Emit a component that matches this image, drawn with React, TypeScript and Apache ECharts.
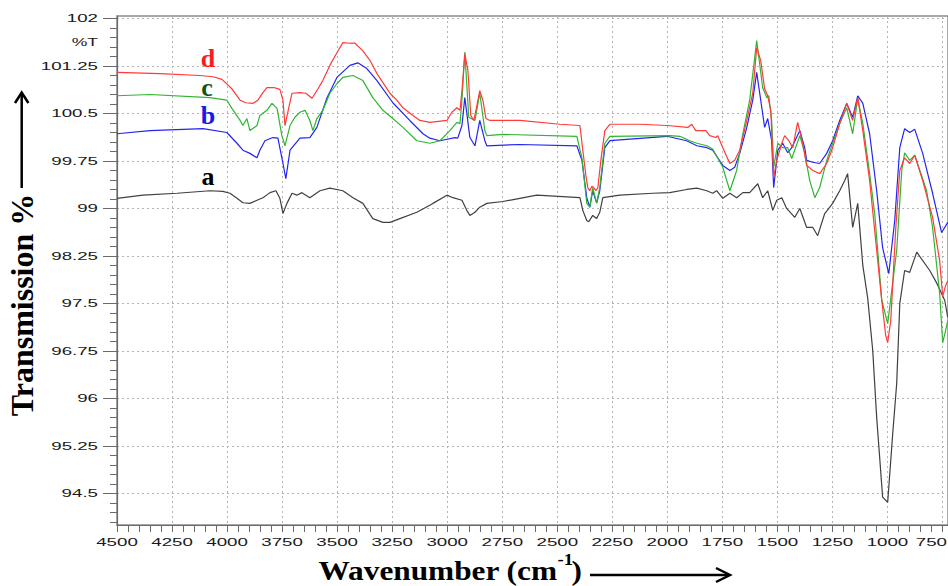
import React, { useEffect, useRef } from "react";
import * as echarts from "echarts";

// ---- axes ----
const X_LABELS = [4500, 4250, 4000, 3750, 3500, 3250, 3000, 2750, 2500, 2250, 2000, 1750, 1500, 1250, 1000, 750];
const Y_LABELS = [102, 101.25, 100.5, 99.75, 99, 98.25, 97.5, 96.75, 96, 95.25, 94.5];
const X_RANGE = [725, 4500];
const Y_RANGE = [94, 102.04];
const X_MINOR_STEP = 50;
const Y_MINOR_STEP = 0.15;
const Y_UNIT = "%T";
const Y_TITLE = "Transmission %";
const X_TITLE_MAIN = "Wavenumber (cm";
const X_TITLE_SUP = "-1";
const X_TITLE_END = ")";

// ---- series: [wavenumber cm-1, transmission %] ----
const SAMPLE_A = [
  [4500, 99.16], [4382, 99.21], [4227, 99.24], [4078, 99.28], [4019, 99.27], [3987, 99.24], [3955, 99.16],
  [3928, 99.09], [3896, 99.08], [3864, 99.13], [3837, 99.17], [3805, 99.25], [3778, 99.28], [3760, 99.16],
  [3746, 98.92], [3728, 99.08], [3705, 99.24], [3683, 99.21], [3660, 99.25], [3624, 99.17], [3578, 99.28],
  [3533, 99.32], [3474, 99.28], [3428, 99.17], [3383, 99.08], [3338, 98.84], [3292, 98.78], [3260, 98.78],
  [3215, 98.84], [3138, 98.94], [3079, 99.05], [3065, 99.08], [3001, 99.21], [2974, 99.17], [2933, 99.13],
  [2911, 98.97], [2897, 98.89], [2874, 98.94], [2852, 99.02], [2820, 99.08], [2747, 99.11], [2670, 99.16],
  [2593, 99.21], [2397, 99.17], [2384, 98.97], [2366, 98.81], [2357, 98.79], [2339, 98.89], [2321, 98.84],
  [2307, 98.94], [2293, 99.17], [2216, 99.21], [2066, 99.24], [1989, 99.25], [1912, 99.3], [1866, 99.32],
  [1821, 99.28], [1794, 99.24], [1776, 99.28], [1748, 99.16], [1716, 99.24], [1685, 99.17], [1657, 99.25],
  [1626, 99.25], [1589, 99.39], [1567, 99.17], [1544, 99.28], [1521, 98.97], [1503, 99.13], [1480, 99.17],
  [1458, 99.0], [1421, 98.86], [1398, 99.0], [1367, 98.7], [1339, 98.7], [1317, 98.57], [1285, 98.92],
  [1249, 99.08], [1217, 99.28], [1194, 99.44], [1181, 99.55], [1158, 98.7], [1135, 99.08], [1112, 98.1],
  [1090, 97.59], [1067, 96.76], [1049, 95.7], [1022, 94.44], [999, 94.36], [976, 95.45], [958, 96.24],
  [944, 97.5], [922, 98.02], [899, 97.99], [867, 98.31], [808, 98.02], [776, 97.82], [740, 97.55], [726, 97.28],
];

const SAMPLE_B = [
  [4500, 100.18], [4350, 100.23], [4109, 100.26], [4001, 100.2], [3955, 100.03], [3928, 99.92], [3896, 99.87],
  [3864, 99.8], [3851, 99.92], [3828, 100.07], [3792, 100.12], [3769, 100.11], [3746, 99.71], [3733, 99.47],
  [3714, 99.92], [3669, 100.11], [3624, 100.12], [3592, 100.28], [3546, 100.75], [3501, 101.07], [3442, 101.26],
  [3406, 101.3], [3365, 101.21], [3319, 101.02], [3247, 100.67], [3170, 100.39], [3110, 100.18], [3079, 100.11],
  [3033, 100.07], [2965, 100.12], [2952, 100.11], [2933, 100.31], [2920, 100.75], [2897, 100.12], [2874, 99.99],
  [2852, 100.39], [2829, 100.07], [2820, 99.99], [2670, 100.01], [2411, 99.99], [2388, 99.76], [2366, 99.17],
  [2352, 99.02], [2339, 99.28], [2321, 99.09], [2307, 99.28], [2284, 99.96], [2261, 100.07], [2002, 100.14],
  [1912, 100.07], [1866, 99.99], [1821, 99.96], [1794, 99.92], [1748, 99.68], [1716, 99.6], [1694, 99.65],
  [1671, 99.87], [1639, 100.28], [1612, 100.71], [1594, 101.15], [1567, 100.5], [1558, 100.28], [1544, 100.42],
  [1526, 100.07], [1517, 99.33], [1498, 99.92], [1476, 100.03], [1453, 99.88], [1435, 99.96], [1398, 100.23],
  [1376, 99.96], [1367, 99.76], [1339, 99.73], [1308, 99.71], [1276, 99.87], [1249, 100.07], [1217, 100.39],
  [1185, 100.66], [1158, 100.44], [1135, 100.78], [1112, 100.66], [1081, 100.18], [1049, 99.28], [1022, 98.38],
  [994, 97.97], [967, 98.81], [944, 99.96], [922, 100.26], [899, 100.2], [876, 100.25], [840, 99.87],
  [795, 99.24], [754, 98.62], [726, 98.78],
];

const SAMPLE_C = [
  [4500, 100.78], [4350, 100.8], [4078, 100.75], [4001, 100.71], [3978, 100.58], [3941, 100.39], [3928, 100.31],
  [3910, 100.42], [3896, 100.23], [3864, 100.31], [3851, 100.47], [3819, 100.55], [3796, 100.66], [3773, 100.58],
  [3751, 100.15], [3737, 99.99], [3714, 100.31], [3692, 100.44], [3669, 100.52], [3646, 100.55], [3624, 100.39],
  [3610, 100.23], [3592, 100.42], [3565, 100.55], [3533, 100.82], [3501, 100.97], [3474, 101.07], [3428, 101.1],
  [3383, 101.02], [3338, 100.75], [3292, 100.55], [3247, 100.42], [3201, 100.28], [3138, 100.07], [3079, 100.03],
  [3033, 100.07], [2988, 100.23], [2956, 100.36], [2942, 100.34], [2933, 100.71], [2920, 101.47], [2902, 100.44],
  [2874, 100.39], [2852, 100.82], [2829, 100.23], [2820, 100.15], [2747, 100.17], [2411, 100.14], [2388, 99.8],
  [2366, 99.08], [2352, 99.02], [2339, 99.33], [2321, 99.08], [2307, 99.33], [2284, 100.03], [2261, 100.14],
  [1989, 100.15], [1943, 100.14], [1898, 100.07], [1866, 100.03], [1821, 99.99], [1794, 99.94], [1748, 99.65],
  [1716, 99.28], [1685, 99.6], [1657, 100.18], [1626, 100.71], [1594, 101.65], [1567, 100.91], [1548, 100.75],
  [1539, 100.78], [1526, 100.39], [1517, 99.65], [1498, 100.03], [1476, 99.96], [1453, 99.96], [1435, 99.79],
  [1398, 100.15], [1376, 99.87], [1353, 99.44], [1330, 99.17], [1308, 99.33], [1276, 99.76], [1249, 100.03],
  [1217, 100.34], [1185, 100.59], [1158, 100.18], [1135, 100.74], [1112, 100.34], [1081, 99.55], [1058, 98.92],
  [1026, 97.55], [999, 97.18], [958, 98.34], [935, 99.6], [922, 99.88], [899, 99.76], [876, 99.84], [822, 99.28],
  [795, 98.7], [763, 97.66], [749, 96.88], [736, 97.07], [726, 97.23],
];

const SAMPLE_D = [
  [4500, 101.15], [4305, 101.13], [4123, 101.1], [4064, 101.08], [4023, 101.04], [3978, 100.89], [3941, 100.71],
  [3914, 100.67], [3882, 100.66], [3860, 100.71], [3837, 100.83], [3819, 100.91], [3787, 100.91], [3760, 100.88],
  [3746, 100.71], [3737, 100.31], [3724, 100.52], [3705, 100.82], [3669, 100.83], [3642, 100.82], [3614, 100.74],
  [3587, 100.89], [3565, 101.02], [3533, 101.26], [3501, 101.46], [3474, 101.62], [3442, 101.61], [3419, 101.61],
  [3383, 101.49], [3351, 101.34], [3319, 101.13], [3283, 100.94], [3260, 100.82], [3229, 100.71], [3201, 100.59],
  [3160, 100.48], [3124, 100.39], [3079, 100.36], [3001, 100.39], [2979, 100.52], [2956, 100.59], [2942, 100.55],
  [2933, 100.86], [2920, 101.44], [2906, 101.18], [2893, 100.47], [2879, 100.39], [2865, 100.63], [2852, 100.86],
  [2838, 100.71], [2824, 100.42], [2806, 100.39], [2670, 100.39], [2488, 100.33], [2397, 100.31], [2384, 99.92],
  [2370, 99.52], [2361, 99.32], [2352, 99.28], [2343, 99.35], [2334, 99.33], [2325, 99.28], [2316, 99.32],
  [2302, 99.76], [2284, 100.23], [2261, 100.33], [2125, 100.33], [2002, 100.31], [1907, 100.28], [1889, 100.33],
  [1871, 100.23], [1825, 100.23], [1807, 100.15], [1780, 100.12], [1771, 100.15], [1748, 99.96], [1716, 99.71],
  [1694, 99.76], [1671, 99.92], [1639, 100.39], [1612, 100.82], [1594, 101.54], [1576, 101.34], [1558, 100.89],
  [1544, 100.78], [1530, 100.55], [1517, 99.49], [1503, 99.76], [1480, 100.03], [1467, 100.15], [1448, 100.07],
  [1430, 99.96], [1408, 100.36], [1385, 100.03], [1367, 99.68], [1339, 99.6], [1308, 99.55], [1276, 99.71],
  [1249, 99.96], [1217, 100.34], [1185, 100.66], [1158, 100.39], [1135, 100.75], [1112, 100.23], [1081, 99.44],
  [1049, 98.34], [1026, 97.55], [1008, 96.99], [999, 96.88], [985, 97.23], [963, 98.65], [944, 99.6],
  [922, 99.8], [899, 99.71], [876, 99.84], [840, 99.44], [795, 98.86], [763, 98.18], [749, 97.61], [736, 97.78],
  [726, 97.86],
];

const SERIES = [
  { name: "a", data: SAMPLE_A, color: "#404040", textColor: "#000000", pos: [208, 176] },
  { name: "b", data: SAMPLE_B, color: "#2424f2", textColor: "#1a1ae6", pos: [208, 115] },
  { name: "c", data: SAMPLE_C, color: "#2fb52f", textColor: "#145214", pos: [207, 87] },
  { name: "d", data: SAMPLE_D, color: "#ff3a3a", textColor: "#ff1a1a", pos: [208, 58] },
];

const TICK_FONT = '11px "Liberation Sans", Arial, sans-serif';
const TITLE_FONT_FAMILY = '"Liberation Serif", "Times New Roman", serif';

function minorValues(from: number, to: number, step: number) {
  const out: number[] = [];
  const n = Math.round((to - from) / step);
  for (let k = 0; k <= n; k++) out.push(+(from + k * step).toFixed(4));
  return out;
}

export default function App() {
  const ref = useRef<HTMLDivElement>(null);

  useEffect(() => {
    if (!ref.current) return;
    const chart = echarts.init(ref.current, null, { renderer: "svg" });

    const xMinor = minorValues(X_LABELS[X_LABELS.length - 1], X_LABELS[0], X_MINOR_STEP);
    const yLow = Y_LABELS[Y_LABELS.length - 1];
    const yMinor = minorValues(
      +(yLow - Y_MINOR_STEP * 3).toFixed(4),
      +(Y_LABELS[0] - Y_MINOR_STEP).toFixed(4),
      Y_MINOR_STEP
    );

    const axisColor = "#6a6a6a";
    const gridLine = { show: true, lineStyle: { color: "#b4b4b4", type: [2, 3] as any, width: 1 } };

    const option: any = {
      animation: false,
      backgroundColor: "#ffffff",
      grid: {
        left: 117,
        right: 0,
        top: 16,
        bottom: 61,
        show: true,
        borderColor: "#8a8a8a",
        borderWidth: 1.5,
        backgroundColor: "transparent",
      },
      xAxis: [
        {
          type: "value",
          inverse: true,
          min: X_RANGE[0],
          max: X_RANGE[1],
          axisLine: { show: true, onZero: false, lineStyle: { color: axisColor, width: 1.2 } },
          axisTick: { show: true, customValues: X_LABELS, length: 7, lineStyle: { color: axisColor } },
          axisLabel: { show: false },
          splitLine: gridLine,
        },
        {
          type: "value",
          inverse: true,
          min: X_RANGE[0],
          max: X_RANGE[1],
          position: "bottom",
          axisLine: { show: false, onZero: false },
          axisTick: { show: true, customValues: xMinor, length: 7, lineStyle: { color: axisColor } },
          axisLabel: { show: false },
          splitLine: { show: false },
        },
      ],
      yAxis: [
        {
          type: "value",
          min: Y_RANGE[0],
          max: Y_RANGE[1],
          axisLine: { show: true, onZero: false, lineStyle: { color: axisColor, width: 1.2 } },
          axisTick: { show: true, customValues: Y_LABELS, length: 14, lineStyle: { color: axisColor } },
          axisLabel: { show: false },
          splitLine: gridLine,
        },
        {
          type: "value",
          min: Y_RANGE[0],
          max: Y_RANGE[1],
          position: "left",
          axisLine: { show: false, onZero: false },
          axisTick: { show: true, customValues: yMinor, length: 7, lineStyle: { color: axisColor } },
          axisLabel: { show: false },
          splitLine: { show: false },
        },
      ],
      series: SERIES.map((s) => ({
        name: s.name,
        type: "line",
        xAxisIndex: 0,
        yAxisIndex: 0,
        data: s.data,
        showSymbol: false,
        symbol: "none",
        smooth: false,
        lineStyle: { color: s.color, width: 1.2 },
        itemStyle: { color: s.color },
        z: 3,
      })),
    };

    chart.setOption(option);

    const graphics: any[] = [];
    const yBase = chart.convertToPixel({ yAxisIndex: 0 }, Y_RANGE[0]) as number;
    const xLeft = chart.convertToPixel({ xAxisIndex: 0 }, X_RANGE[1]) as number;
    const chartWidth = chart.getWidth();

    X_LABELS.forEach((v) => {
      const px = chart.convertToPixel({ xAxisIndex: 0 }, v) as number;
      // keep the last label fully inside the picture
      const nearEdge = px + 16 > chartWidth;
      graphics.push({
        type: "text",
        x: nearEdge ? chartWidth - 1 : px,
        y: yBase + 17,
        scaleX: 1.7,
        silent: true,
        style: {
          text: String(v),
          font: TICK_FONT,
          fill: "#1a1a1a",
          align: nearEdge ? "right" : "center",
          textAlign: nearEdge ? "right" : "center",
          verticalAlign: "middle",
          textVerticalAlign: "middle",
        },
      });
    });
    Y_LABELS.forEach((v) => {
      const py = chart.convertToPixel({ yAxisIndex: 0 }, v) as number;
      graphics.push({
        type: "text",
        x: xLeft - 19,
        y: py,
        scaleX: 1.7,
        silent: true,
        style: {
          text: String(v),
          font: TICK_FONT,
          fill: "#1a1a1a",
          align: "right",
          textAlign: "right",
          verticalAlign: "middle",
          textVerticalAlign: "middle",
        },
      });
    });
    const unitY = chart.convertToPixel({ yAxisIndex: 0 }, (Y_LABELS[0] + Y_LABELS[1]) / 2) as number;
    graphics.push({
      type: "text",
      x: xLeft - 19,
      y: unitY,
      scaleX: 1.6,
      silent: true,
      style: {
        text: Y_UNIT,
        font: TICK_FONT,
        fill: "#1a1a1a",
        align: "right",
        textAlign: "right",
        verticalAlign: "middle",
        textVerticalAlign: "middle",
      },
    });

    // y title + arrow
    graphics.push({
      type: "text",
      x: 22,
      y: 305,
      rotation: Math.PI / 2,
      silent: true,
      style: {
        text: Y_TITLE,
        font: `bold 32px ${TITLE_FONT_FAMILY}`,
        fill: "#000",
        align: "center",
        textAlign: "center",
        verticalAlign: "middle",
        textVerticalAlign: "middle",
      },
    });
    graphics.push({
      type: "line",
      silent: true,
      shape: { x1: 21.7, y1: 188, x2: 21.7, y2: 94 },
      style: { stroke: "#000", lineWidth: 2.5 },
    });
    graphics.push({
      type: "polyline",
      silent: true,
      shape: { points: [[15, 103], [21.7, 92.5], [28.4, 103]] },
      style: { stroke: "#000", lineWidth: 2.5, fill: null },
    });

    // x title + arrow
    graphics.push({
      type: "text",
      x: 557,
      y: 571,
      scaleX: 1.16,
      silent: true,
      style: {
        text: X_TITLE_MAIN,
        font: `bold 27px ${TITLE_FONT_FAMILY}`,
        fill: "#000",
        align: "right",
        textAlign: "right",
        verticalAlign: "middle",
        textVerticalAlign: "middle",
      },
    });
    graphics.push({
      type: "text",
      x: 557.5,
      y: 559,
      scaleX: 1.1,
      silent: true,
      style: {
        text: X_TITLE_SUP,
        font: `bold 17px ${TITLE_FONT_FAMILY}`,
        fill: "#000",
        align: "left",
        textAlign: "left",
        verticalAlign: "middle",
        textVerticalAlign: "middle",
      },
    });
    graphics.push({
      type: "text",
      x: 571.5,
      y: 571,
      scaleX: 1.16,
      silent: true,
      style: {
        text: X_TITLE_END,
        font: `bold 27px ${TITLE_FONT_FAMILY}`,
        fill: "#000",
        align: "left",
        textAlign: "left",
        verticalAlign: "middle",
        textVerticalAlign: "middle",
      },
    });
    graphics.push({
      type: "line",
      silent: true,
      shape: { x1: 590, y1: 575, x2: 729, y2: 575 },
      style: { stroke: "#000", lineWidth: 2.5 },
    });
    graphics.push({
      type: "polyline",
      silent: true,
      shape: { points: [[716, 568], [730, 575], [716, 582]] },
      style: { stroke: "#000", lineWidth: 2.5, fill: null },
    });

    // sample letters
    SERIES.forEach((s) => {
      graphics.push({
        type: "text",
        x: s.pos[0],
        y: s.pos[1],
        silent: true,
        z: 10,
        style: {
          text: s.name,
          font: `bold 26px ${TITLE_FONT_FAMILY}`,
          fill: s.textColor,
          align: "center",
          textAlign: "center",
          verticalAlign: "middle",
          textVerticalAlign: "middle",
        },
      });
    });

    chart.setOption({ graphic: graphics });

    return () => {
      chart.dispose();
    };
  }, []);

  return (
    <div
      ref={ref}
      style={{ position: "fixed", left: 0, top: 0, width: 948, height: 586, background: "#fff" }}
    />
  );
}
